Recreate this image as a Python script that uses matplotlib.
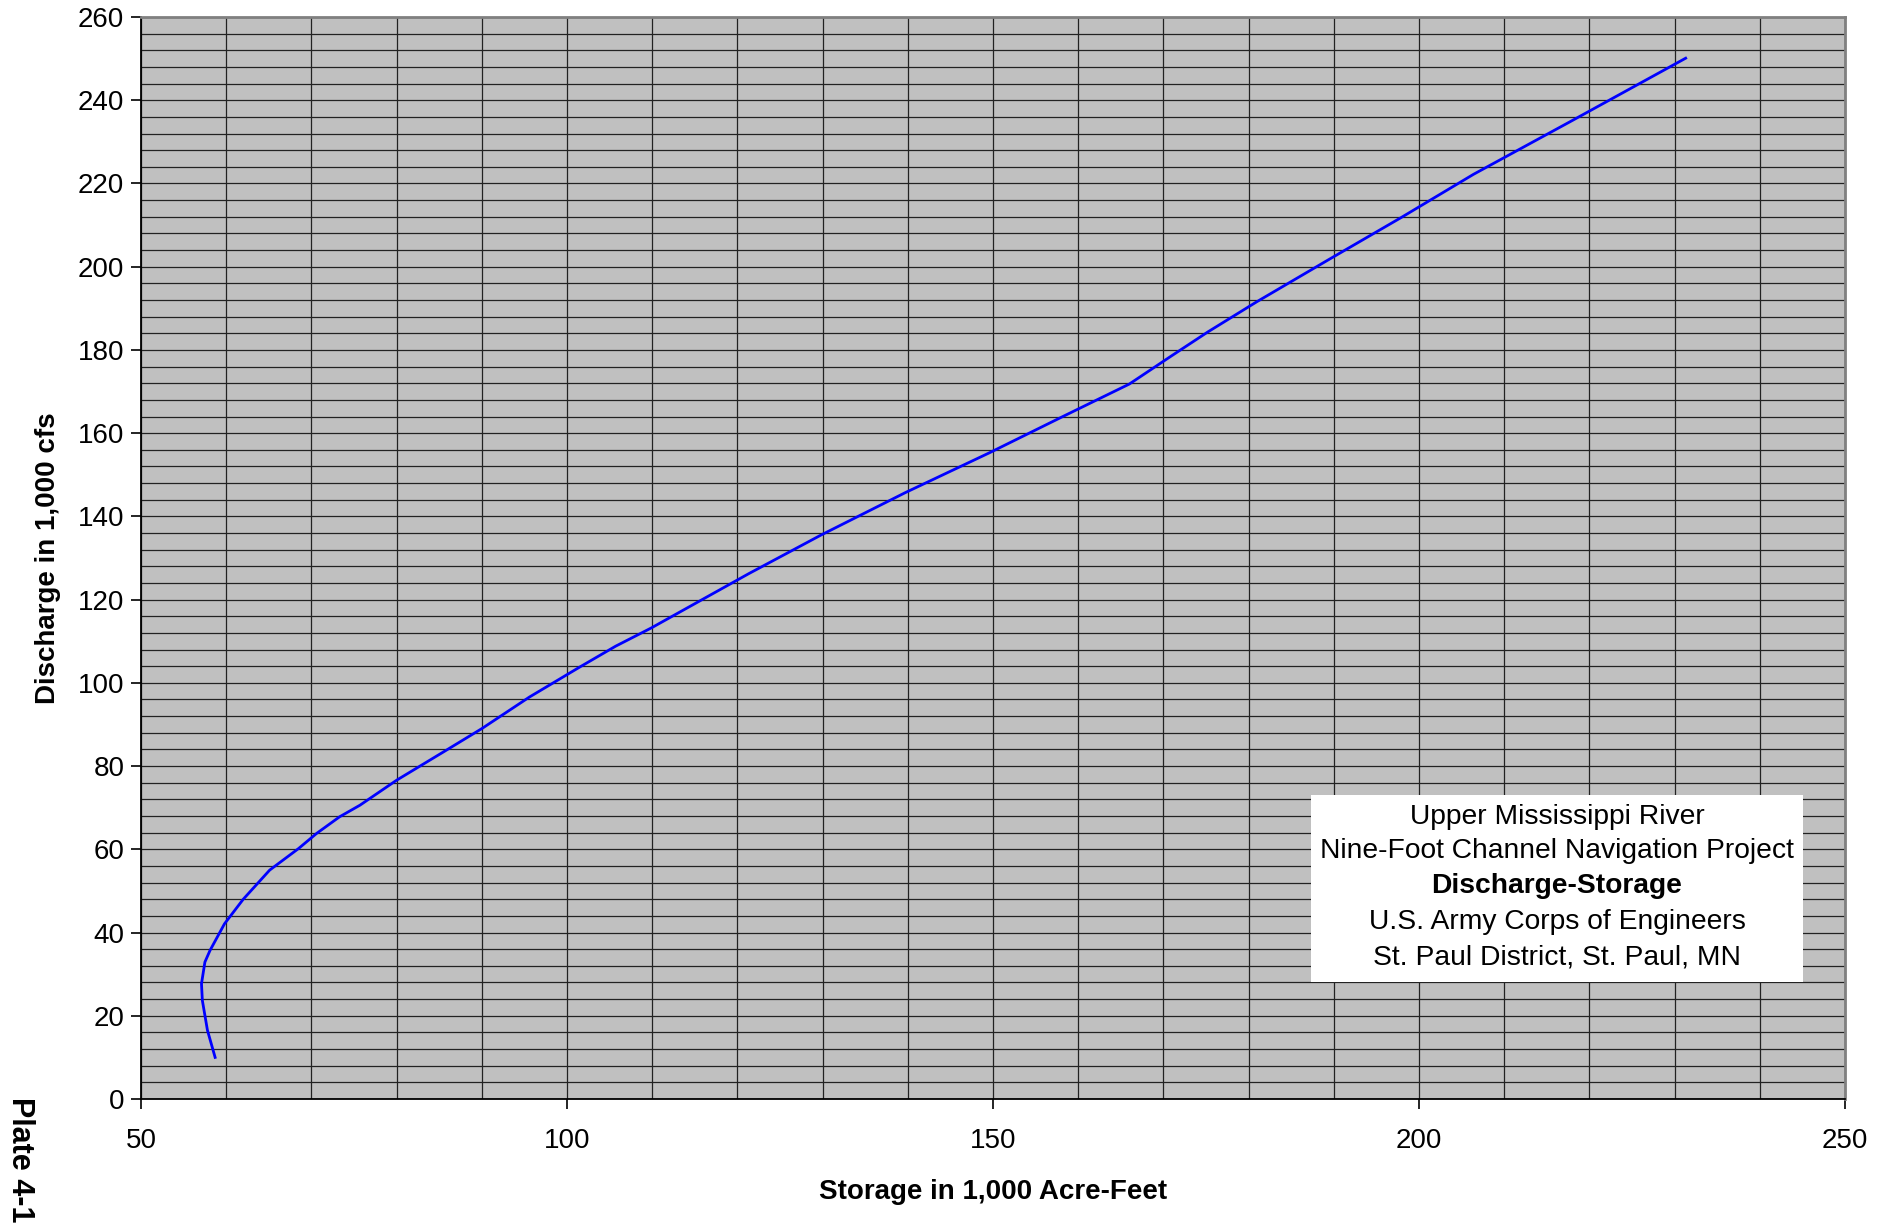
import matplotlib
matplotlib.use("Agg")
import matplotlib.pyplot as plt
from matplotlib.patches import Rectangle

# storage (1,000 acre-feet) and discharge (1,000 cfs)
storage = [58.7, 57.8, 57.2, 57.1, 57.5, 58.1, 59.8, 62.0, 65.1, 68.5, 70.6,
           73.3, 75.7, 80.0, 85.5, 90.0, 95.6, 101.5, 105.7, 109.9, 117.0,
           121.3, 129.8, 139.7, 149.6, 158.2, 166.0, 170.9, 175.2, 180.9,
           189.4, 197.9, 206.4, 217.7, 231.3]
discharge = [10.0, 16.5, 23.7, 27.7, 32.9, 35.7, 42.1, 48.0, 55.0, 60.2, 63.8,
             67.8, 70.6, 76.6, 83.4, 89.0, 96.6, 103.8, 108.8, 113.2, 121.3,
             126.2, 135.5, 145.7, 155.3, 164.0, 171.8, 178.5, 184.3, 191.5,
             201.7, 211.8, 222.2, 234.8, 250.1]

x_ticks = [50, 100, 150, 200, 250]
y_ticks = list(range(0, 261, 20))
box_lines = ["Upper Mississippi River",
             "Nine-Foot Channel Navigation Project",
             "Discharge-Storage",
             "U.S. Army Corps of Engineers",
             "St. Paul District, St. Paul, MN"]

plt.rcParams['font.family'] = ['Liberation Sans', 'DejaVu Sans']

W, H = 1893, 1224
fig = plt.figure(figsize=(W / 100, H / 100), dpi=100)
ax = fig.add_axes([141 / W, 1 - 1099 / H, (1845 - 141) / W, (1099 - 17) / H])
ax.set_facecolor('#c0c0c0')

ax.set_xlim(50, 250)
ax.set_ylim(0, 260)
ax.set_xticks(x_ticks)
ax.set_yticks(y_ticks)
ax.set_xticks(range(50, 251, 10), minor=True)
ax.set_yticks(range(0, 261, 4), minor=True)
ax.grid(True, which='both', color='#222222', linewidth=0.9)
ax.set_axisbelow(True)
ax.tick_params(which='minor', length=0)
ax.tick_params(which='major', direction='out', length=7, width=1.2,
               labelsize=20, color='black')
ax.tick_params(axis='x', pad=14)
ax.tick_params(axis='y', pad=5)

for s in ['top', 'right']:
    ax.spines[s].set_color('#808080')
    ax.spines[s].set_linewidth(2)
for s in ['left', 'bottom']:
    ax.spines[s].set_color('black')
    ax.spines[s].set_linewidth(1.3)

ax.plot(storage, discharge, color='#0000ff', linewidth=2.0, zorder=3)

ax.set_xlabel('Storage in 1,000 Acre-Feet', fontsize=20, fontweight='bold', labelpad=18)
ax.set_ylabel('Discharge in 1,000 cfs', fontsize=20, fontweight='bold', labelpad=12)

# title block
fig.patches.append(Rectangle((1311 / W, 1 - 982 / H), (1803 - 1311) / W, (982 - 795) / H,
                             transform=fig.transFigure, facecolor='white',
                             edgecolor='none', zorder=5))
line_y = [817, 851, 886, 922, 957]
for txt, yp in zip(box_lines, line_y):
    fig.text(1557 / W, 1 - yp / H, txt, ha='center', va='center', fontsize=20.3,
             fontweight='bold' if txt == 'Discharge-Storage' else 'normal', zorder=6)

fig.text(20 / W, 1 - 1160 / H, 'Plate 4-1', rotation=270, ha='center', va='center',
         fontsize=22, fontweight='bold')

fig.savefig('out.png', dpi=100)
